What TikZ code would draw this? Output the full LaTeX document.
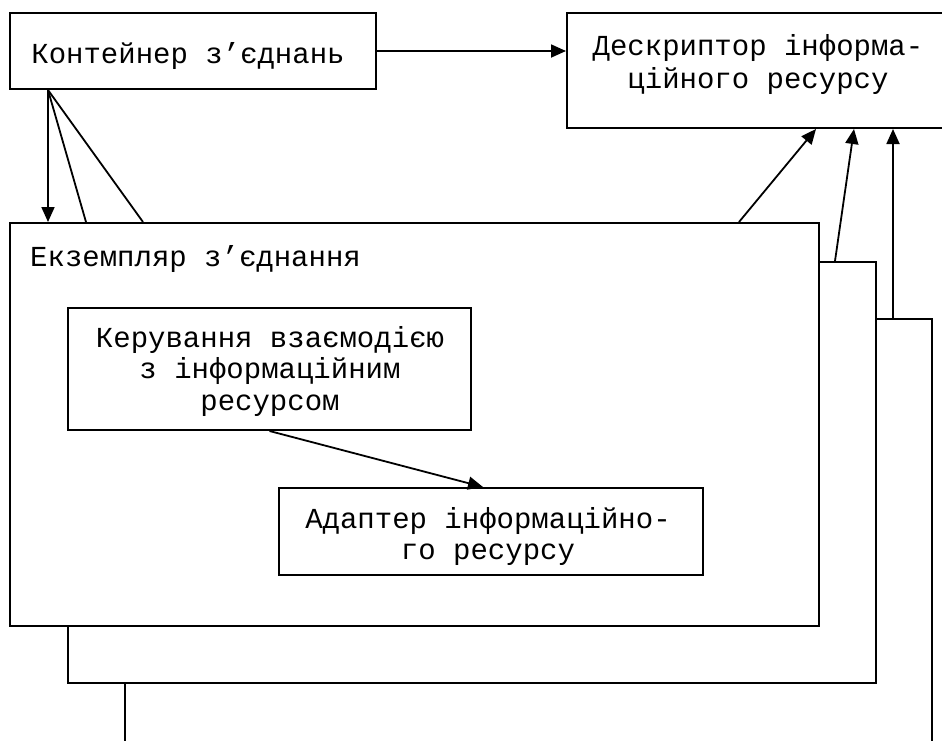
\documentclass[tikz,border=0pt]{standalone}
\usepackage{fontspec}
\setmainfont{Liberation Mono}
\usetikzlibrary{arrows.meta,calc}
\begin{document}
\begin{tikzpicture}[x=1pt,y=-1pt,
  box/.style={draw=black,line width=2pt,fill=white,inner sep=0pt,minimum width=#1},
  txt/.style={inner sep=0pt,anchor=base,font=\fontsize{29}{32}\selectfont},
  conn/.style={line width=1.8pt},
  arr/.style={line width=1.8pt,-{Triangle[length=15pt,width=13pt]}}]
\useasboundingbox[fill=white] (0,0) rectangle (942,740);
% boxes
\node[box=366,minimum height=76] (cont) at (193,51) {};
\node[box=380,minimum height=115] (desc) at (757,70.5) {};
\node[box=807,minimum height=441] (inst3) at (528.5,539.5) {};
\node[box=808,minimum height=421] (inst2) at (472,472.5) {};
\node[box=809,minimum height=403] (inst1) at (414.5,424.5) {};
\node[box=403,minimum height=122] (ctrl) at (269.5,369) {};
\node[box=424,minimum height=87] (adap) at (491,531.5) {};
% texts
\node[txt] (t1) at (188,63) {Контейнер з’єднань};
\node[txt] (t2a) at (758,55) {Дескриптор інформа-};
\node[txt] (t2b) at (758,88) {ційного ресурсу};
\node[txt,anchor=base west] (t3) at (30,266) {Екземпляр з’єднання};
\node[txt] (t4a) at (270,347) {Керування взаємодією};
\node[txt] (t4b) at (270,378) {з інформаційним};
\node[txt] (t4c) at (270,410) {ресурсом};
\node[txt] (t5a) at (488,528) {Адаптер інформаційно-};
\node[txt] (t5b) at (488,559) {го ресурсу};
% connectors
\coordinate (cs) at ([xshift=39pt]cont.south west);
\draw[arr] (cont.east) -- (cont.east -| desc.west);
\draw[arr] (cs) -- (cs |- inst1.north);
\draw[conn] (cs) -- ([xshift=77pt]inst1.north west);
\draw[conn] (cs) -- ([xshift=134pt]inst1.north west);
\draw[arr] (ctrl.south) -- ([xshift=-8pt]adap.north);
\draw[arr] ([xshift=730pt]inst1.north west) -- ([xshift=250pt]desc.south west);
\draw[arr] ([xshift=768pt]inst2.north west) -- ([xshift=288pt]desc.south west);
\draw[arr] ([xshift=769pt]inst3.north west) -- ([xshift=327pt]desc.south west);
\end{tikzpicture}
\end{document}
